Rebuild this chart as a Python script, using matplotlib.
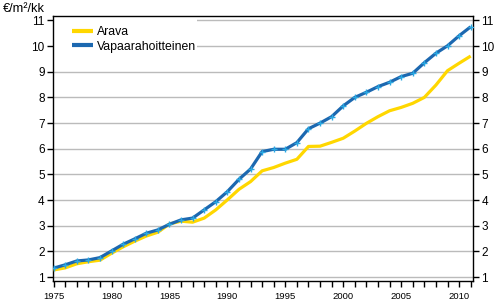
import matplotlib
matplotlib.use("Agg")
import matplotlib.pyplot as plt
from matplotlib.patches import Rectangle

years = list(range(1975, 2012))
arava = [1.28, 1.36, 1.52, 1.60, 1.66, 1.93, 2.18, 2.40, 2.60, 2.75, 3.07, 3.18,
         3.14, 3.30, 3.62, 4.01, 4.42, 4.72, 5.14, 5.27, 5.44, 5.59, 6.09, 6.10,
         6.25, 6.41, 6.69, 6.99, 7.25, 7.48, 7.61, 7.77, 8.00, 8.48, 9.04, 9.33, 9.61]
vapaa = [1.35, 1.48, 1.63, 1.67, 1.76, 2.02, 2.28, 2.49, 2.71, 2.84, 3.06, 3.23,
         3.30, 3.62, 3.94, 4.33, 4.81, 5.21, 5.89, 5.98, 5.98, 6.24, 6.78, 7.00,
         7.25, 7.67, 8.00, 8.20, 8.42, 8.59, 8.81, 8.94, 9.35, 9.72, 10.01, 10.40, 10.75]
series_labels = ["Arava", "Vapaarahoitteinen"]
yticks = list(range(1, 12))
xlabel_years = list(range(1975, 2011, 5))
unit_label = "€/m²/kk"

plt.rcParams['font.family'] = ['Liberation Sans', 'DejaVu Sans']

W, H = 494, 304
fig = plt.figure(figsize=(W / 100, H / 100), dpi=100)
ax = fig.add_axes([53 / W, (H - 281) / H, 420 / W, (281 - 16) / H])

ax.plot(years, arava, color='#FFD700', lw=2.3, label=series_labels[0], zorder=3,
        solid_capstyle='butt')
ax.plot(years, vapaa, color='#1C68B0', lw=2.3, label=series_labels[1], zorder=4,
        solid_capstyle='butt')
ax.plot(years, vapaa, ls='none', marker='+', ms=5, mew=1.0, color='#2AA8E2', zorder=5)

ax.set_xlim(1974.95, 2011.2)
ax.set_ylim(0.85, 11.17)
ax.set_yticks(yticks)
ax.set_yticklabels([str(v) for v in yticks])
ax.set_xticks(years)
ax.set_xticklabels([str(y) if y in xlabel_years else '' for y in years])

ax.set_axisbelow(True)
ax.yaxis.grid(True, color='#BBBBBB', lw=1.0)
ax.xaxis.grid(False)

ax.tick_params(axis='y', which='both', left=True, right=True, labelleft=True,
               labelright=True, direction='out', length=4, width=1, labelsize=8.5,
               pad=2, colors='black')
ax.tick_params(axis='x', direction='out', length=4, width=1, labelsize=6.8, pad=4)

for s in ax.spines.values():
    s.set_linewidth(1.0)
    s.set_color('black')

ax.add_patch(Rectangle((0.003, 0.853), 0.340, 0.142, transform=ax.transAxes,
                       facecolor='white', edgecolor='none', zorder=1))

leg = ax.legend(loc='upper left', bbox_to_anchor=(0.045, 0.962), frameon=False,
                borderpad=0, borderaxespad=0, handlelength=1.75, handletextpad=0.3,
                labelspacing=0.2, fontsize=8.8)
for line in leg.get_lines():
    line.set_linewidth(3)

fig.text(3 / W, 1 - 9 / H, unit_label, fontsize=9.2, va='center', ha='left')

fig.savefig('out.png', dpi=100)
